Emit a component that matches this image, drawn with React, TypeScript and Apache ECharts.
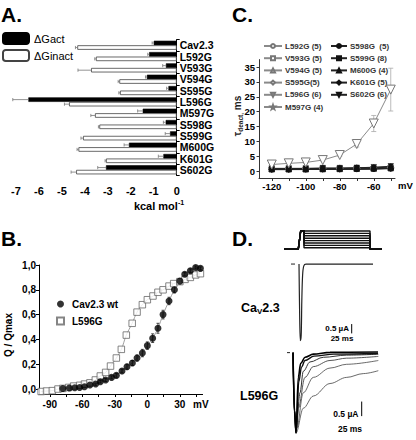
import React, { useEffect, useRef } from "react";
import * as echarts from "echarts";

// ---------- Panel A ----------
const mutants = ["Cav2.3", "L592G", "V593G", "V594G", "S595G", "L596G", "M597G", "S598G", "S599G", "M600G", "K601G", "S602G"];
const dGact = [-1.0, -1.2, -0.47, -1.3, -0.36, -6.46, -1.48, -0.48, -0.29, -2.08, -0.58, -3.08];
const dGactErr = [0.07, 0.06, 0.14, 0.06, 0.08, 0.68, 0.22, 0.1, 0.21, 0.21, 0.22, 0.36];
const dGinact = [-4.33, -3.52, -3.73, -2.5, -2.47, -4.69, -3.56, -3.37, -4.08, -4.28, -3.08, -4.38];
const dGinactErr = [0.08, 0.05, 0.57, 0.05, 0.05, 0.2, 0.18, 0.04, 0.09, 0.06, 0.04, 0.22];
const aTicks = [-7, -6, -5, -4, -3, -2, -1, 0];

// ---------- Panel C ----------
const cVolt = [-120, -110, -100, -90, -80, -70, -60, -50];
const cXTicks = [-120, -110, -100, -90, -80, -70, -60, -50];
const cXLabels = [-120, -100, -80, -60];
const cYTicks = [0, 5, 10, 15, 20, 25, 30, 35];
const tauL592G = [0.7, 0.7, 0.7, 0.7, 0.8, 0.8, 0.9, 1.0];
const tauV593G = [0.6, 0.6, 0.6, 0.7, 0.7, 0.8, 0.8, 1.0];
const tauV594G = [0.8, 0.8, 0.8, 0.8, 0.9, 0.9, 1.0, 1.2];
const tauS595G = [0.7, 0.7, 0.8, 0.8, 0.8, 0.9, 1.0, 1.1];
const tauL596G = [2.2, 2.6, 2.9, 3.7, 5.4, 9.1, 16.0, 27.4];
const tauL596GErr = [0.2, 0.2, 0.3, 0.3, 0.4, 1.0, 2.7, 7.2];
const tauM597G = [0.9, 0.9, 0.9, 1.0, 1.0, 1.1, 1.2, 1.5];
const tauS598G = [0.5, 0.5, 0.5, 0.6, 0.6, 0.6, 0.7, 0.8];
const tauS599G = [0.6, 0.6, 0.6, 0.6, 0.7, 0.7, 0.8, 0.9];
const tauM600G = [0.8, 0.8, 0.8, 0.9, 0.9, 1.0, 1.1, 1.3];
const tauK601G = [0.5, 0.5, 0.6, 0.6, 0.6, 0.7, 0.7, 0.9];
const tauS602G = [0.9, 0.9, 0.9, 1.0, 1.0, 1.1, 1.3, 1.6];

// ---------- Panel B ----------
const wtV = [-78, -72, -67, -62.5, -58, -53, -47.7, -43.4, -38.5, -33, -28.6, -23.4, -18.8, -13.8, -9.5, -4.6, 0, 4.9, 9.8, 14.5, 20, 25, 30, 34.5, 39.7, 44.6, 49];
const wtQ = [0.005, 0.008, 0.01, 0.013, 0.019, 0.032, 0.04, 0.059, 0.073, 0.094, 0.11, 0.145, 0.18, 0.21, 0.25, 0.29, 0.35, 0.41, 0.49, 0.6, 0.71, 0.8, 0.87, 0.925, 0.954, 0.98, 0.973];
const wtErr = [0.005, 0.005, 0.005, 0.005, 0.006, 0.008, 0.01, 0.01, 0.012, 0.012, 0.015, 0.015, 0.02, 0.02, 0.025, 0.03, 0.03, 0.035, 0.04, 0.035, 0.03, 0.025, 0.02, 0.015, 0.015, 0.012, 0.012];
const mutV = [-98, -93, -87.7, -82.5, -78, -72.6, -68, -62.5, -58, -53, -48, -43.4, -38.5, -34, -28.6, -24, -19.4, -14, -9.5, -4.6, 0, 5.2, 9.8, 14.5, 20, 24.3, 30, 34.8, 39.7, 44.6, 49];
const mutQ = [-0.02, -0.016, -0.013, 0, 0.005, 0.013, 0.024, 0.03, 0.04, 0.05, 0.073, 0.105, 0.134, 0.185, 0.25, 0.32, 0.435, 0.53, 0.62, 0.68, 0.72, 0.75, 0.78, 0.8, 0.83, 0.85, 0.866, 0.884, 0.9, 0.92, 0.93];
const bXTicks = [-90, -75, -60, -45, -30, -15, 0, 15, 30, 45];
const bXLabels = [-90, -60, -30, 0, 30];
const bYTicks = [0, 0.2, 0.4, 0.6, 0.8, 1.0];

// ---------- Panel D ----------
const protoTime = [0, 14.3, 16.7, 20, 86, 97.7];
const protoHold = 0;
const protoPre = 9;
const protoTails = [9, 7.8, 6.6, 5.4, 4.2, 3.0, 1.8, 0.6];

const cavTickT = [7, 11];
const cavT = [15, 15.6, 16.3, 17.2, 17.8, 18.6, 19.8, 22, 89];
const cavI = [0, -2.5, -4.1, -3.8, -2.0, -0.6, -0.1, 0, 0];

const lTickT = [3, 6];
const lTraces: { t: number[]; i: number[] }[] = [
  { t: [9, 10.5, 12, 14.3, 16.7, 21, 29.3, 46, 94], i: [0, -2.0, -2.76, -0.85, -0.37, -0.16, -0.05, 0.01, 0.02] },
  { t: [9, 10.5, 12, 14.8, 17.5, 21, 30, 50, 94], i: [0, -2.0, -2.76, -1.0, -0.5, -0.27, -0.12, -0.05, -0.03] },
  { t: [9, 10.5, 12, 16, 19.3, 26, 39.3, 62.7, 94.3], i: [0, -2.0, -2.7, -1.38, -0.64, -0.32, -0.16, -0.086, -0.054] },
  { t: [9, 10.5, 12, 14.3, 21, 29.3, 46, 62.7, 94.3], i: [0, -2.0, -2.7, -1.91, -0.85, -0.48, -0.27, -0.19, -0.13] },
  { t: [9, 10.5, 12.7, 19.3, 29.3, 46, 62.7, 94.3], i: [0, -2.0, -2.6, -1.38, -0.85, -0.53, -0.40, -0.27] },
  { t: [9, 10.5, 12, 19.3, 29.3, 46, 62.7, 79.3, 94.3], i: [0, -2.0, -2.76, -1.91, -1.49, -1.06, -0.85, -0.72, -0.62] },
];
const traceWidths = [1.6, 1.4, 1.0, 0.9, 0.8, 0.8];
const traceColors = ["#000", "#111", "#333", "#444", "#444", "#444"];
const cavScaleT = [67.7, 67.7];
const cavScaleI = [-3.21, -3.71];
const lScaleT = [77.7, 77.7];
const lScaleI = [-1.68, -2.18];

const FONT = "Liberation Sans";
const STAR = "path://M5,0 L6.2,3.5 L10,3.6 L7,6 L8.1,9.6 L5,7.5 L1.9,9.6 L3,6 L0,3.6 L3.8,3.5 Z";

function buildOption() {
  const zip = (a: number[], b: number[]) => a.map((v, k) => [v, b[k]]);

  const aErr = (vals: number[], errs: number[], sign: number) => ({
    type: "custom",
    xAxisIndex: 0,
    yAxisIndex: 0,
    z: 5,
    data: mutants.map((m, k) => [k, vals[k], errs[k]]),
    encode: { x: 1, y: 0 },
    renderItem: (params: any, api: any) => {
      const cat = api.value(0);
      const v = api.value(1);
      const e = api.value(2);
      const band = api.size([0, 1])[1];
      const p1 = api.coord([v, cat]);
      const p2 = api.coord([v - e, cat]);
      const y = p1[1] + sign * band * 0.2;
      return {
        type: "group",
        children: [
          { type: "line", shape: { x1: p1[0], y1: y, x2: p2[0], y2: y }, style: { stroke: "#777", lineWidth: 0.8 } },
          { type: "line", shape: { x1: p2[0], y1: y - 1.6, x2: p2[0], y2: y + 1.6 }, style: { stroke: "#777", lineWidth: 0.8 } },
        ],
      };
    },
  });

  const vErr = (xi: number, yi: number, xs: number[], ys: number[], es: number[], color: string, cap: number) => ({
    type: "custom",
    xAxisIndex: xi,
    yAxisIndex: yi,
    z: 1,
    data: xs.map((x, k) => [x, ys[k], es[k]]),
    encode: { x: 0, y: 1 },
    renderItem: (params: any, api: any) => {
      const x = api.value(0);
      const y = api.value(1);
      const e = api.value(2);
      const a = api.coord([x, y + e]);
      const b = api.coord([x, y - e]);
      return {
        type: "group",
        children: [
          { type: "line", shape: { x1: a[0], y1: a[1], x2: b[0], y2: b[1] }, style: { stroke: color, lineWidth: 0.8 } },
          { type: "line", shape: { x1: a[0] - cap, y1: a[1], x2: a[0] + cap, y2: a[1] }, style: { stroke: color, lineWidth: 0.8 } },
          { type: "line", shape: { x1: b[0] - cap, y1: b[1], x2: b[0] + cap, y2: b[1] }, style: { stroke: color, lineWidth: 0.8 } },
        ],
      };
    },
  });

  const openC = (name: string, vals: number[], symbol: string, size = 5.5, rotate = 0) => ({
    name,
    type: "line",
    xAxisIndex: 1,
    yAxisIndex: 1,
    data: zip(cVolt, vals),
    symbol,
    symbolSize: size,
    symbolRotate: rotate,
    showAllSymbol: true,
    lineStyle: { color: "#8a8a8a", width: 1 },
    itemStyle: { color: "#fff", borderColor: "#777", borderWidth: 1 },
  });
  const fillC = (name: string, vals: number[], symbol: string, size = 5, rotate = 0) => ({
    name,
    type: "line",
    xAxisIndex: 1,
    yAxisIndex: 1,
    data: zip(cVolt, vals),
    symbol,
    symbolSize: size,
    symbolRotate: rotate,
    showAllSymbol: true,
    lineStyle: { color: "#222", width: 1 },
    itemStyle: { color: "#111", borderColor: "#111", borderWidth: 0.5 },
  });

  const protoSeries = protoTails.map((lvl) => ({
    type: "line",
    xAxisIndex: 3,
    yAxisIndex: 3,
    symbol: "none",
    silent: true,
    lineStyle: { color: "#111", width: 1.4 },
    data: [
      [protoTime[0], protoHold],
      [protoTime[1], protoHold],
      [protoTime[2], protoPre],
      [protoTime[3], protoPre],
      [protoTime[3], lvl],
      [protoTime[4], lvl],
      [protoTime[4], protoHold],
      [protoTime[5], protoHold],
    ],
  }));

  const simpleLine = (xi: number, data: number[][], color: string, width: number) => ({
    type: "line",
    xAxisIndex: xi,
    yAxisIndex: xi,
    symbol: "none",
    silent: true,
    lineStyle: { color, width },
    data,
  });

  const lTraceSeries = lTraces.map((tr, k) => ({
    type: "line",
    xAxisIndex: 5,
    yAxisIndex: 5,
    symbol: "none",
    smooth: 0.35,
    smoothMonotone: "x",
    silent: true,
    z: 10 - k,
    lineStyle: { color: traceColors[k], width: traceWidths[k] },
    data: zip(tr.t, tr.i),
  }));

  const hiddenAxis = (gi: number, min: number, max: number) => ({
    gridIndex: gi, type: "value", min, max, show: false,
  });

  const lbl = { fontFamily: FONT, fontWeight: "bold", color: "#000" };
  const legendC = {
    orient: "vertical", padding: 0, top: 42,
    itemWidth: 18, itemHeight: 5, itemGap: 4.2,
    textStyle: { fontFamily: FONT, fontSize: 8, fontWeight: "bold", color: "#333", padding: [0, 0, 0, -2] },
  };

  return {
    animation: false,
    backgroundColor: "#fff",
    textStyle: { fontFamily: FONT },
    grid: [
      { left: 10.25, right: 239.3, top: 39.6, height: 135.9 },
      { left: 259, width: 136, top: 59.6, height: 118.9 },
      { left: 39, width: 163.6, top: 265, height: 129 },
      { left: 284, width: 100, top: 229, height: 22 },
      { left: 284, width: 100, top: 254.7, height: 91.6 },
      { left: 284, width: 100, top: 343.9, height: 103.6 },
    ],
    xAxis: [
      {
        gridIndex: 0, type: "value", min: -7.25, max: 0, offset: 5,
        axisLine: { onZero: false, lineStyle: { color: "#000", width: 1 } },
        axisTick: { length: 4, customValues: aTicks, lineStyle: { color: "#000" } },
        axisLabel: { ...lbl, fontSize: 11, margin: 5, customValues: aTicks },
        splitLine: { show: false },
      },
      {
        gridIndex: 1, type: "value", min: -127.5, max: -47.5,
        axisLine: { onZero: false, lineStyle: { color: "#333", width: 1 } },
        axisTick: { length: 2.5, customValues: cXTicks, lineStyle: { color: "#333" } },
        axisLabel: { ...lbl, fontSize: 9.5, margin: 3, customValues: cXLabels },
        splitLine: { show: false },
      },
      {
        gridIndex: 2, type: "value", min: -100, max: 51,
        axisLine: { onZero: false, lineStyle: { color: "#000", width: 1 } },
        axisTick: { length: 3, customValues: bXTicks, lineStyle: { color: "#000" } },
        axisLabel: { ...lbl, fontSize: 10, margin: 5, customValues: bXLabels },
        splitLine: { show: false },
      },
      hiddenAxis(3, 0, 100),
      hiddenAxis(4, 0, 100),
      hiddenAxis(5, 0, 100),
    ],
    yAxis: [
      {
        gridIndex: 0, type: "category", data: mutants, inverse: true, position: "right",
        axisLine: { onZero: false, lineStyle: { color: "#000", width: 1 } },
        axisTick: { show: true, length: 3, lineStyle: { color: "#000" } },
        axisLabel: { ...lbl, fontSize: 10.5, margin: 3, interval: 0 },
      },
      {
        gridIndex: 1, type: "value", min: -2.5, max: 37.5,
        axisLine: { show: true, onZero: false, lineStyle: { color: "#333", width: 1 } },
        axisTick: { show: true, length: 2.5, customValues: cYTicks, lineStyle: { color: "#333" } },
        axisLabel: { ...lbl, fontSize: 9.5, margin: 4, customValues: cYTicks },
        splitLine: { show: false },
      },
      {
        gridIndex: 2, type: "value", min: -0.04, max: 1.0,
        axisLine: { show: true, onZero: false, lineStyle: { color: "#000", width: 1 } },
        axisTick: { show: true, length: 3, customValues: bYTicks, lineStyle: { color: "#000" } },
        axisLabel: {
          ...lbl, fontSize: 10, margin: 3, customValues: bYTicks,
          formatter: (v: number) => v.toFixed(1).replace(".", ","),
        },
        splitLine: { show: false },
      },
      hiddenAxis(3, -1, 10),
      hiddenAxis(4, -4.4, 0.5),
      hiddenAxis(5, -3.0, 0.3),
    ],
    legend: [
      {
        data: ["ΔGact", "ΔGinact"], left: 2, top: 32, orient: "vertical", padding: 0,
        itemWidth: 26, itemHeight: 11, itemGap: 4,
        textStyle: { fontFamily: FONT, fontSize: 11, color: "#000" },
      },
      { ...legendC, left: 263, data: ["L592G (5)", "V593G (5)", "V594G (5)", "S595G(5)", "L596G (6)", "M597G (4)"] },
      { ...legendC, left: 330, itemWidth: 16, data: ["S598G  (5)", "S599G (8)", "M600G (4)", "K601G (5)", "S602G (6)"] },
      {
        data: ["Cav2.3 wt", "L596G"], left: 56, top: 299, orient: "vertical", padding: 0,
        itemWidth: 7, itemHeight: 7, itemGap: 7,
        textStyle: { fontFamily: FONT, fontSize: 10, fontWeight: "bold", color: "#000", padding: [0, 0, 0, 3] },
      },
    ],
    series: [
      // Panel A bars
      {
        name: "ΔGact", type: "bar", xAxisIndex: 0, yAxisIndex: 0, data: dGact,
        barGap: "0%", barCategoryGap: "20%",
        itemStyle: { color: "#000", borderColor: "#000", borderWidth: 0.6 },
      },
      {
        name: "ΔGinact", type: "bar", xAxisIndex: 0, yAxisIndex: 0, data: dGinact,
        barGap: "0%", barCategoryGap: "20%",
        itemStyle: { color: "#fff", borderColor: "#444", borderWidth: 0.8 },
      },
      aErr(dGact, dGactErr, -1),
      aErr(dGinact, dGinactErr, 1),
      // Panel C
      openC("L592G (5)", tauL592G, "circle"),
      openC("V593G (5)", tauV593G, "rect"),
      openC("V594G (5)", tauV594G, "triangle"),
      openC("S595G(5)", tauS595G, "diamond", 6.5),
      openC("M597G (4)", tauM597G, STAR, 6.5),
      fillC("S598G  (5)", tauS598G, "circle", 5),
      fillC("S599G (8)", tauS599G, "rect", 5),
      fillC("M600G (4)", tauM600G, "triangle", 5.5),
      fillC("K601G (5)", tauK601G, "diamond", 6),
      fillC("S602G (6)", tauS602G, "triangle", 5.5, 180),
      vErr(1, 1, cVolt, tauL596G, tauL596GErr, "#aaa", 2.5),
      { ...openC("L596G (6)", tauL596G, "triangle", 9, 180), z: 4 },
      // Panel B
      {
        type: "line", xAxisIndex: 2, yAxisIndex: 2, data: zip(wtV, wtQ), symbol: "none",
        smooth: 0.4, silent: true, lineStyle: { color: "#888", width: 0.8 },
      },
      {
        type: "line", xAxisIndex: 2, yAxisIndex: 2, data: zip(mutV, mutQ), symbol: "none",
        smooth: 0.4, silent: true, lineStyle: { color: "#888", width: 0.8 },
      },
      vErr(2, 2, wtV, wtQ, wtErr, "#222", 1.5),
      {
        name: "L596G", type: "scatter", xAxisIndex: 2, yAxisIndex: 2, data: zip(mutV, mutQ),
        symbol: "rect", symbolSize: 6.5, z: 3,
        itemStyle: { color: "#fff", borderColor: "#666", borderWidth: 1 },
      },
      {
        name: "Cav2.3 wt", type: "scatter", xAxisIndex: 2, yAxisIndex: 2, data: zip(wtV, wtQ),
        symbol: "circle", symbolSize: 7, z: 4,
        itemStyle: { color: "#000" },
      },
      // Panel D
      ...protoSeries,
      simpleLine(4, cavTickT.map((t) => [t, 0]), "#222", 1),
      { ...simpleLine(4, zip(cavT, cavI), "#222", 1.2), smooth: 0.3 },
      simpleLine(4, zip(cavScaleT, cavScaleI), "#000", 1),
      simpleLine(5, lTickT.map((t) => [t, 0]), "#222", 1),
      ...lTraceSeries,
      simpleLine(5, zip(lScaleT, lScaleI), "#000", 1),
    ],
    graphic: [
      { type: "text", x: 1, y: 4, style: { text: "A.", fontFamily: FONT, fontSize: 21, fontWeight: "bold", fill: "#000" } },
      { type: "text", x: 1, y: 228, style: { text: "B.", fontFamily: FONT, fontSize: 21, fontWeight: "bold", fill: "#000" } },
      { type: "text", x: 232, y: 4, style: { text: "C.", fontFamily: FONT, fontSize: 21, fontWeight: "bold", fill: "#000" } },
      { type: "text", x: 232, y: 228, style: { text: "D.", fontFamily: FONT, fontSize: 21, fontWeight: "bold", fill: "#000" } },
      {
        type: "text", x: 159, y: 206,
        style: {
          text: "{a|kcal mol}{s|-1}", align: "center", verticalAlign: "middle",
          rich: {
            a: { fontFamily: FONT, fontSize: 11, fontWeight: "bold", fill: "#000", lineHeight: 14 },
            s: { fontFamily: FONT, fontSize: 7, fontWeight: "bold", fill: "#000", verticalAlign: "top", lineHeight: 14, padding: [0, 0, 6, 0] },
          },
        },
      },
      {
        type: "text", x: 237.5, y: 116, rotation: Math.PI / 2,
        style: {
          text: "{a|τ}{s|deact,}{a| ms}", align: "center", verticalAlign: "middle",
          rich: {
            a: { fontFamily: FONT, fontSize: 10, fontWeight: "bold", fill: "#222", lineHeight: 12 },
            s: { fontFamily: FONT, fontSize: 6.5, fontWeight: "bold", fill: "#222", lineHeight: 12, padding: [5, 0, 0, 0] },
          },
        },
      },
      { type: "text", x: 398, y: 185, style: { text: "mV", fontFamily: FONT, fontSize: 9.5, fontWeight: "bold", fill: "#000", verticalAlign: "middle" } },
      { type: "text", x: 193, y: 404.5, style: { text: "mV", fontFamily: FONT, fontSize: 10, fontWeight: "bold", fill: "#000", verticalAlign: "middle" } },
      {
        type: "text", x: 8, y: 335, rotation: Math.PI / 2,
        style: { text: "Q / Qmax", fontFamily: FONT, fontSize: 10, fontWeight: "bold", fill: "#000", align: "center", verticalAlign: "middle" },
      },
      {
        type: "text", x: 241, y: 307.5,
        style: {
          text: "{a|Ca}{s|V}{a|2.3}", verticalAlign: "middle",
          rich: {
            a: { fontFamily: FONT, fontSize: 12.5, fontWeight: "bold", fill: "#000", lineHeight: 16 },
            s: { fontFamily: FONT, fontSize: 8, fontWeight: "bold", fill: "#000", lineHeight: 16, padding: [7, 0, 0, 0] },
          },
        },
      },
      { type: "text", x: 240, y: 396, style: { text: "L596G", fontFamily: FONT, fontSize: 12.5, fontWeight: "bold", fill: "#000", verticalAlign: "middle" } },
      { type: "text", x: 349, y: 328.5, style: { text: "0.5 µA", fontFamily: FONT, fontSize: 8, fontWeight: "bold", fill: "#000", align: "right", verticalAlign: "middle" } },
      { type: "text", x: 342, y: 338.5, style: { text: "25 ms", fontFamily: FONT, fontSize: 8, fontWeight: "bold", fill: "#000", align: "center", verticalAlign: "middle" } },
      { type: "text", x: 358.5, y: 414, style: { text: "0.5 µA", fontFamily: FONT, fontSize: 8.5, fontWeight: "bold", fill: "#000", align: "right", verticalAlign: "middle" } },
      { type: "text", x: 350, y: 428.5, style: { text: "25 ms", fontFamily: FONT, fontSize: 8.5, fontWeight: "bold", fill: "#000", align: "center", verticalAlign: "middle" } },
    ],
  };
}

export default function App() {
  const ref = useRef<HTMLDivElement>(null);
  useEffect(() => {
    const chart = echarts.init(ref.current!, null, { renderer: "svg" });
    chart.setOption(buildOption() as any);
    return () => chart.dispose();
  }, []);
  return (
    <div
      ref={ref}
      style={{ position: "absolute", left: 0, top: 0, width: 416, height: 440, background: "#fff" }}
    />
  );
}
